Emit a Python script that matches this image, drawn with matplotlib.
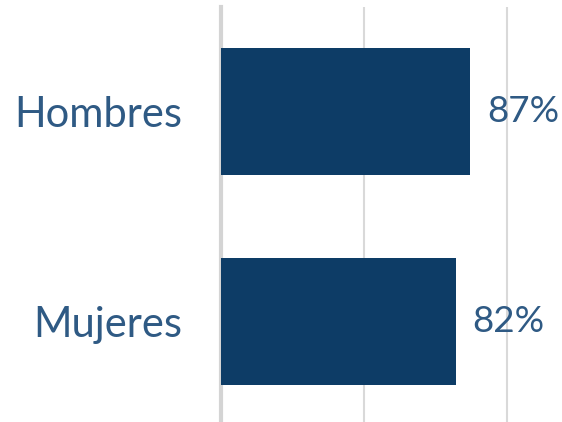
import matplotlib.pyplot as plt

categories = ["Hombres", "Mujeres"]
values = [87, 82]
value_labels = ["87%", "82%"]

plt.rcParams['font.family'] = ['Lato', 'DejaVu Sans']

fig = plt.figure(figsize=(5.62, 4.22), dpi=100)
ax = fig.add_axes([221 / 562, 0, 1 - 221 / 562, 415 / 422])

positions = list(range(len(categories)))
ax.barh(positions, values, height=0.606, color="#0d3c66", zorder=3)

ax.set_xlim(0, 119.2)
ax.set_ylim(1.482, -0.5)

ax.set_xticks([50, 100])
ax.xaxis.grid(True, color="#d9d9d9", linewidth=1.5, zorder=0)
ax.tick_params(axis="x", length=0, labelbottom=False)

ax.set_yticks(positions)
ax.set_yticklabels(categories, fontsize=30, color="#2f5a84")
ax.tick_params(axis="y", length=0, pad=28)

for side in ["top", "right", "bottom"]:
    ax.spines[side].set_visible(False)
ax.spines["left"].set_color("#d4d4d4")
ax.spines["left"].set_linewidth(3)

for pos, val, lab in zip(positions, values, value_labels):
    ax.text(val + 6, pos, lab, va="center", ha="left", fontsize=26.5, color="#2f5a84")

fig.savefig("out.png", dpi=100)
